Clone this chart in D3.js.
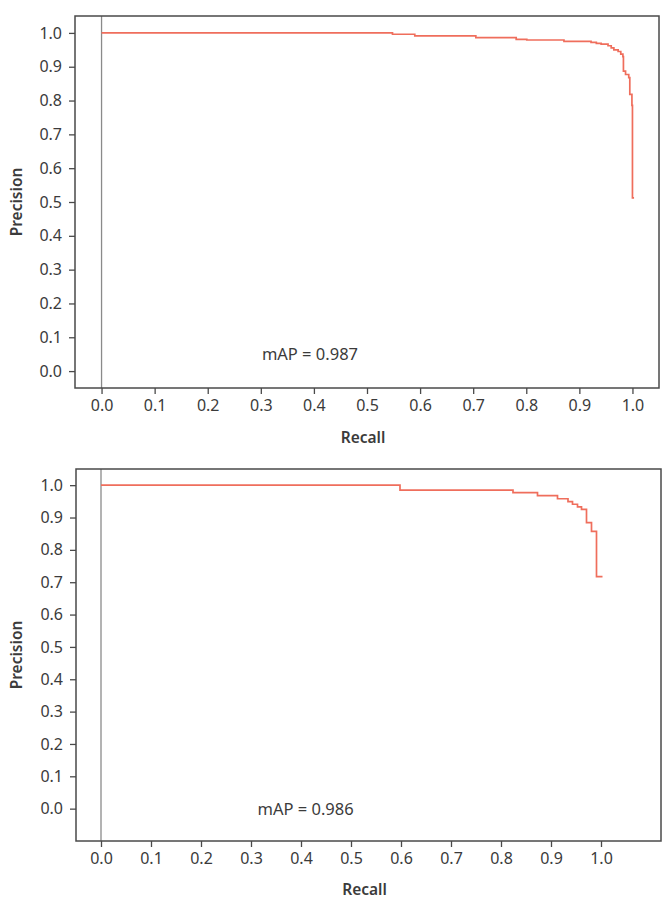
<!DOCTYPE html>
<html>
<head>
<meta charset="utf-8">
<script src="https://cdn.jsdelivr.net/npm/d3@7"></script>
<style>
  html, body { margin: 0; padding: 0; background: #fff; }
  svg { display: block; font-family: "Noto Sans", "Open Sans", sans-serif; }
</style>
</head>
<body>
<svg id="chart" width="672" height="910"></svg>
<script>
// ---- data ----
const ticks = [0, 0.1, 0.2, 0.3, 0.4, 0.5, 0.6, 0.7, 0.8, 0.9, 1.0];
const xLabel = "Recall";
const yLabel = "Precision";

// top panel: stepped precision-recall curve
const recallTop = [0, 0.548, 0.59, 0.705, 0.781, 0.801, 0.871, 0.922, 0.932, 0.941, 0.954, 0.960, 0.965, 0.973, 0.978, 0.982, 0.983, 0.987, 0.993, 0.995, 0.999, 1.0, 1.003];
const precisionTop = [1.0, 0.996, 0.991, 0.986, 0.981, 0.979, 0.975, 0.972, 0.969, 0.967, 0.962, 0.956, 0.950, 0.945, 0.937, 0.930, 0.887, 0.877, 0.868, 0.818, 0.786, 0.512, 0.512];
const mapTop = "mAP = 0.987";

// bottom panel
const recallBottom = [0, 0.598, 0.824, 0.873, 0.913, 0.934, 0.943, 0.953, 0.961, 0.971, 0.981, 0.991, 1.003];
const precisionBottom = [1.0, 0.985, 0.977, 0.968, 0.958, 0.949, 0.941, 0.933, 0.925, 0.884, 0.857, 0.717, 0.717];
const mapBottom = "mAP = 0.986";

const svg = d3.select("#chart");
const textColor = "#3b3b3b";
const lineColor = "#ef6e5c";

function panel(cfg) {
  const x = d3.scaleLinear().domain(cfg.xDomain).range([cfg.left, cfg.right]);
  const y = d3.scaleLinear().domain(cfg.yDomain).range([cfg.bottom, cfg.top]);
  const g = svg.append("g");

  // vertical reference line at recall 0
  g.append("line")
    .attr("x1", x(0)).attr("x2", x(0))
    .attr("y1", cfg.top).attr("y2", cfg.bottom)
    .attr("stroke", "#8a8a8a").attr("stroke-width", 1.3);

  // curve
  const pts = cfg.recall.map((r, i) => [r, cfg.precision[i]]);
  g.append("path")
    .datum(pts)
    .attr("fill", "none")
    .attr("stroke", lineColor)
    .attr("stroke-width", 1.7)
    .attr("d", d3.line().x(d => x(d[0])).y(d => y(d[1])).curve(d3.curveStepAfter));

  // frame
  g.append("rect")
    .attr("x", cfg.left).attr("y", cfg.top)
    .attr("width", cfg.right - cfg.left).attr("height", cfg.bottom - cfg.top)
    .attr("fill", "none").attr("stroke", "#4a4a4a").attr("stroke-width", 1.5);

  // axes
  const xAxis = g.append("g").attr("transform", `translate(0,${cfg.bottom})`)
    .call(d3.axisBottom(x).tickValues(ticks).tickFormat(d3.format(".1f")).tickSize(6).tickPadding(6));
  const yAxis = g.append("g").attr("transform", `translate(${cfg.left},0)`)
    .call(d3.axisLeft(y).tickValues(ticks).tickFormat(d3.format(".1f")).tickSize(6).tickPadding(7));
  [xAxis, yAxis].forEach(a => {
    a.select(".domain").remove();
    a.selectAll(".tick line").attr("stroke", "#4a4a4a").attr("stroke-width", 1.3);
    a.selectAll(".tick text").attr("fill", textColor).style("font-size", "16px")
      .style("font-family", "'Noto Sans', sans-serif");
  });

  // axis titles
  g.append("text")
    .attr("x", (cfg.left + cfg.right) / 2 - 4).attr("y", cfg.xTitleY)
    .attr("text-anchor", "middle").attr("fill", textColor)
    .style("font-size", "15.5px").style("font-weight", 600)
    .text(xLabel);
  g.append("text")
    .attr("transform", `translate(${cfg.yTitleX},${(cfg.top + cfg.bottom) / 2}) rotate(-90)`)
    .attr("text-anchor", "middle").attr("fill", textColor)
    .style("font-size", "15.5px").style("font-weight", 600)
    .text(yLabel);

  // mAP annotation
  g.append("text")
    .attr("x", x(cfg.mapX)).attr("y", y(cfg.mapY))
    .attr("fill", textColor).style("font-size", "16.5px")
    .text(cfg.mapText);
}

panel({
  left: 75, right: 659, top: 16, bottom: 388,
  xDomain: [-0.05, 1.05], yDomain: [-0.05, 1.05],
  recall: recallTop, precision: precisionTop,
  xTitleY: 443, yTitleX: 22,
  mapText: mapTop, mapX: 0.302, mapY: 0.033
});

panel({
  left: 76, right: 661, top: 469, bottom: 841,
  xDomain: [-0.05, 1.12], yDomain: [-0.1, 1.05],
  recall: recallBottom, precision: precisionBottom,
  xTitleY: 895, yTitleX: 22,
  mapText: mapBottom, mapX: 0.313, mapY: -0.02
});
</script>
</body>
</html>
